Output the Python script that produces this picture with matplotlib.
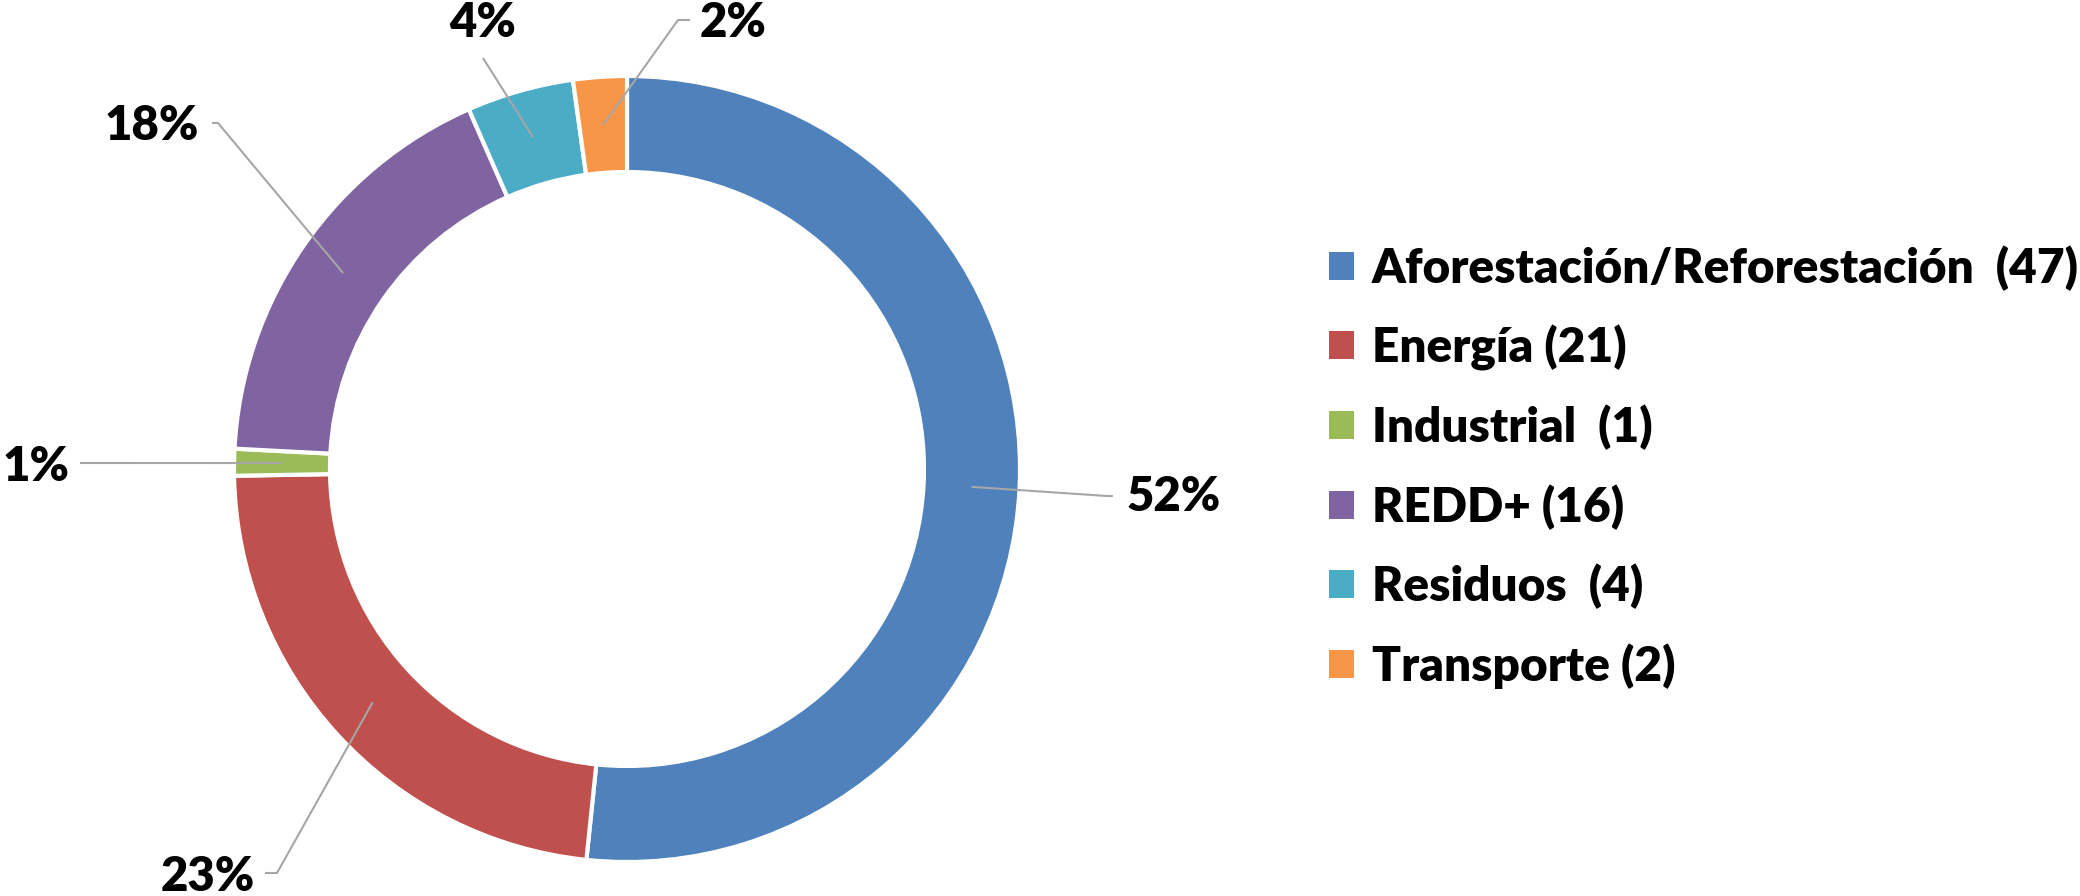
import numpy as np
import matplotlib
matplotlib.use("Agg")
import matplotlib.pyplot as plt
from matplotlib.patches import Patch
from matplotlib import font_manager as fm

categories = ["Aforestación/Reforestación", "Energía", "Industrial", "REDD+", "Residuos", "Transporte"]
counts = [47, 21, 1, 16, 4, 2]
legend_gaps = ["  ", " ", "  ", " ", "  ", " "]
colors = ["#4F81BD", "#C0504D", "#9BBB59", "#8064A2", "#4BACC6", "#F79646"]

W, H = 2080, 896
fig = plt.figure(figsize=(W / 100, H / 100), dpi=100)
ax = fig.add_axes([0, 0, 1, 1])

cx, cy, R, ring = 627, H - 469, 393, 96
wedges, _ = ax.pie(counts, colors=colors, startangle=90, counterclock=False,
                   radius=R, center=(cx, cy),
                   wedgeprops=dict(width=ring, edgecolor="white", linewidth=3))
ax.set_xlim(0, W)
ax.set_ylim(0, H)
ax.set_aspect("equal")
ax.axis("off")

pct = np.array(counts) / sum(counts) * 100

# label placement (pixels from top-left): text anchor, alignment, leader path
label_layout = [
    dict(xy=(1127, 497), ha="left", path=[(1107, 496), (1113, 496)]),
    dict(xy=(255, 877), ha="right", path=[(277, 873), (265, 873)]),
    dict(xy=(70, 467), ha="right", path=[(80, 463)]),
    dict(xy=(199, 126), ha="right", path=[(218, 123), (212, 123)]),
    dict(xy=(483, 23), ha="center", path=[(483, 58)]),
    dict(xy=(700, 23), ha="left", path=[(678, 20), (690, 20)]),
]

r_mid = R - ring / 2
for w, p, lay in zip(wedges, pct, label_layout):
    ang = np.deg2rad((w.theta1 + w.theta2) / 2)
    ax0 = cx + r_mid * np.cos(ang)
    ay0 = cy + r_mid * np.sin(ang)
    xs = [ax0] + [q[0] for q in lay["path"]]
    ys = [ay0] + [H - q[1] for q in lay["path"]]
    ax.plot(xs, ys, color="#A6A6A6", lw=1.5, solid_capstyle="butt", zorder=3)
    ax.text(lay["xy"][0], H - lay["xy"][1], f"{p:.0f}%", ha=lay["ha"], va="center",
            fontsize=34, fontweight="heavy", family=["Lato", "DejaVu Sans"], color="black")

handles = [Patch(facecolor=c, edgecolor="none") for c in colors]
labels = [f"{c}{g}({n})" for c, g, n in zip(categories, legend_gaps, counts)]
fs = 34.4
fs_px = fs * 100 / 72
leg_font = fm.FontProperties(family=["Lato", "DejaVu Sans"], weight="heavy", size=fs)
leg = fig.legend(handles, labels, loc="center left",
                 bbox_to_anchor=(1329 / W, 1 - 467 / H), bbox_transform=fig.transFigure,
                 frameon=False, borderpad=0, borderaxespad=0,
                 handlelength=25 / fs_px, handleheight=25 / fs_px, handletextpad=18 / fs_px,
                 labelspacing=0.71, prop=leg_font)

fig.savefig("out.png", dpi=100)
